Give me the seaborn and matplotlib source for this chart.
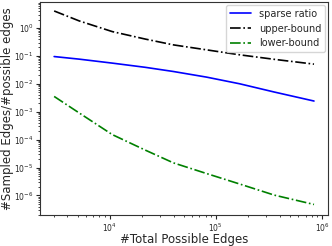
import pandas as pd
import matplotlib
matplotlib.use('Agg')
import matplotlib.pyplot as plt
import seaborn as sns

# values (log-log)
total_edges = [3000, 5170, 10600, 21700, 39900, 81900, 167600, 355700, 841000]
sparse_ratio = [0.0944, 0.0762, 0.0549, 0.0388, 0.0275, 0.0173, 0.0100, 0.00506, 0.00241]
upper_bound = [4.05, 1.78, 0.738, 0.398, 0.247, 0.164, 0.109, 0.075, 0.0505]
lower_bound = [0.00352, 9.0e-4, 1.51e-4, 4.2e-5, 1.47e-5, 6.1e-6, 2.58e-6, 1.03e-6, 4.77e-7]

df = pd.DataFrame({'edges': total_edges, 'sparse': sparse_ratio,
                   'upper': upper_bound, 'lower': lower_bound})

sns.set_style('ticks')
plt.rcParams['font.family'] = ['DejaVu Sans']

fig = plt.figure(figsize=(3.32, 2.46), dpi=100)
ax = fig.add_axes([0.12, 0.126, 0.868, 0.866])

sns.lineplot(data=df, x='edges', y='sparse', ax=ax, color='blue', lw=1.2, label='sparse ratio')
sns.lineplot(data=df, x='edges', y='upper', ax=ax, color='black', lw=1.2, ls='-.', label='upper-bound')
sns.lineplot(data=df, x='edges', y='lower', ax=ax, color='green', lw=1.2, ls='-.', label='lower-bound')

ax.set_xscale('log')
ax.set_yscale('log')
ax.set_xlim(2200, 1.14e6)
ax.set_ylim(2e-7, 8.5)
ax.set_xlabel('#Total Possible Edges', fontsize=8.5)
ax.set_ylabel('#Sampled Edges/#possible edges', fontsize=8.5)
ax.xaxis.set_label_coords(0.5, -0.086)
ax.yaxis.set_label_coords(-0.09, 0.5)
ax.tick_params(labelsize=5.5, pad=1.5, length=3)
ax.tick_params(which='minor', length=1.5)
for s in ax.spines.values():
    s.set_color('#333333')
ax.legend(loc='upper right', fontsize=7, frameon=True, borderaxespad=0.3, handlelength=2.2)

fig.savefig('out.png', dpi=100)
